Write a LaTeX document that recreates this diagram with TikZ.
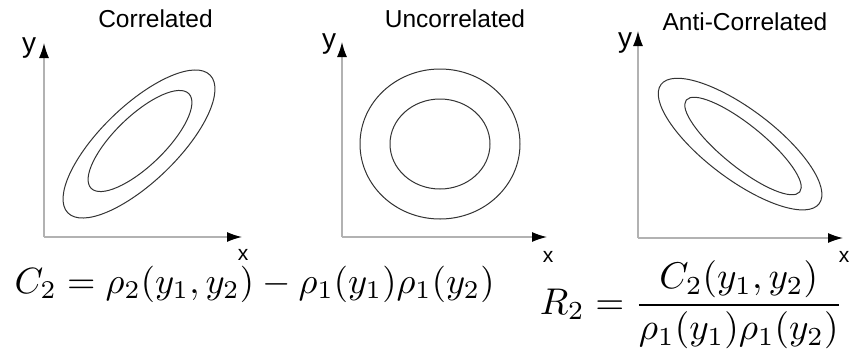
\documentclass[tikz,border=0pt]{standalone}
\usepackage{fontspec}
\setsansfont{Liberation Sans}
\usetikzlibrary{arrows.meta}
\begin{document}
\begin{tikzpicture}[x=1pt,y=-1pt,
  axis/.style={draw=gray!60, line width=1.3pt, -{Latex[length=15pt,width=10pt,color=black]}},
  contour/.style={draw=black!80, line width=1pt},
  title/.style={font={\sffamily\fontsize{24.5}{28}\selectfont}, anchor=base, inner sep=0},
  ylab/.style={font={\sffamily\fontsize{28}{30}\selectfont}, anchor=base, inner sep=0},
  xlab/.style={font={\sffamily\fontsize{21}{24}\selectfont}, anchor=base, inner sep=0},
  eq/.style={inner sep=0}]
\useasboundingbox[fill=white] (0,0) rectangle (854,354);

% ---------- Panel 1: Correlated ----------
\node[title] (t1) at (155.5,27) {Correlated};
\coordinate (o1) at (44,237);
\coordinate (ya1) at (44,43);
\coordinate (xa1) at (242,237);
\draw[axis] (o1) -- (ya1);
\draw[axis] (o1) -- (xa1);
\node[ylab] (yl1) at (29,52) {y};
\node[xlab] (xl1) at (243,260) {x};
\coordinate (c1o) at (139,144);
\coordinate (c1i) at (140,141);
\draw[contour, rotate around={44:(c1o)}] (c1o) ellipse [x radius=99, y radius=38];
\draw[contour, rotate around={44:(c1i)}] (c1i) ellipse [x radius=68, y radius=25];

% ---------- Panel 2: Uncorrelated ----------
\node[title] (t2) at (455,27) {Uncorrelated};
\coordinate (o2) at (342,237);
\coordinate (ya2) at (342,42);
\coordinate (xa2) at (547,237);
\draw[axis] (o2) -- (ya2);
\draw[axis] (o2) -- (xa2);
\node[ylab] (yl2) at (329,48) {y};
\node[xlab] (xl2) at (548,262) {x};
\coordinate (c2) at (440,144);
\draw[contour] (c2) ellipse [x radius=80, y radius=75];
\draw[contour] (c2) ellipse [x radius=50, y radius=45];

% ---------- Panel 3: Anti-Correlated ----------
\node[title] (t3) at (745,30) {Anti-Correlated};
\coordinate (o3) at (638,238);
\coordinate (ya3) at (638,31);
\coordinate (xa3) at (843,238);
\draw[axis] (o3) -- (ya3);
\draw[axis] (o3) -- (xa3);
\node[ylab] (yl3) at (625,47) {y};
\node[xlab] (xl3) at (844,262) {x};
\coordinate (c3o) at (740,144);
\coordinate (c3i) at (743,146);
\draw[contour, rotate around={-37:(c3o)}] (c3o) ellipse [x radius=99, y radius=35];
\draw[contour, rotate around={-39:(c3i)}] (c3i) ellipse [x radius=73, y radius=21];

% ---------- Equations ----------
\node[eq, scale=3.65] (eqC) at (254.5,284) {$C_2 = \rho_2(y_1,y_2) - \rho_1(y_1)\rho_1(y_2)$};
\node[eq, scale=3.72] (eqR) at (691.5,305) {$\displaystyle R_2 = \frac{C_2(y_1,y_2)}{\rho_1(y_1)\rho_1(y_2)}$};
\end{tikzpicture}
\end{document}
